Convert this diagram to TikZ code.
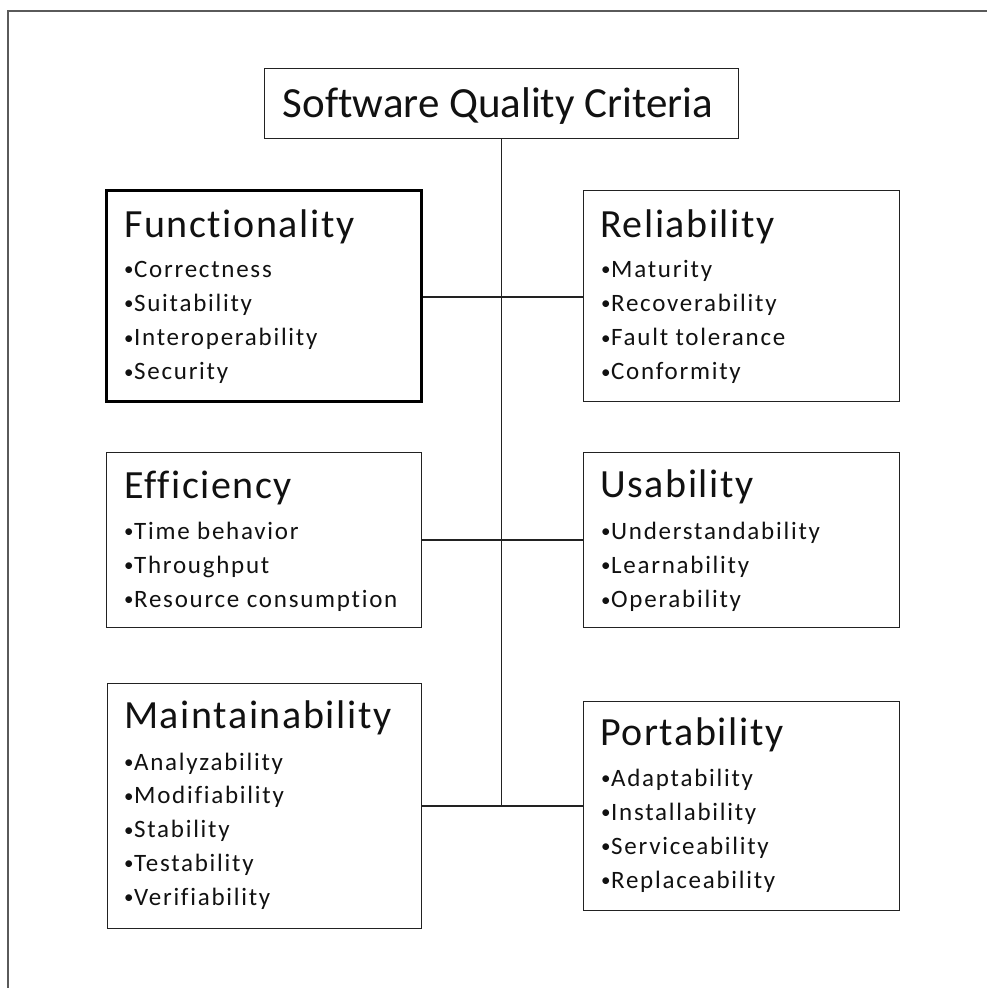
\documentclass[tikz,border=0pt]{standalone}
\usepackage{fontspec}
\setmainfont{Carlito}[Ligatures={NoCommon,NoRequired}]
\newfontfamily\titlefont{Carlito}[Ligatures={NoCommon,NoRequired}]
\newfontfamily\headfont{Carlito}[Ligatures={NoCommon,NoRequired},LetterSpace=4]
\newfontfamily\itemfont{Carlito}[Ligatures={NoCommon,NoRequired},LetterSpace=7]
\definecolor{boxline}{HTML}{222222}
\definecolor{framegray}{HTML}{5A5A5A}
\definecolor{ink}{HTML}{111111}
% small list bullet
\newcommand\bul{\raisebox{1.5pt}{\fontsize{19}{19}\selectfont•}\kern0.5pt}
\begin{document}
\begin{tikzpicture}[x=1pt,y=-1pt,
  box/.style={draw=boxline, line width=1.4pt, rectangle, inner sep=0pt, anchor=north west},
  keybox/.style={box, draw=black, line width=3pt},
  link/.style={draw=boxline, line width=1.4pt},
  heading/.style={anchor=base west, inner sep=0pt, text=ink, font=\headfont\fontsize{40}{42}\selectfont},
  item/.style={anchor=base west, inner sep=0pt, text=ink, font=\itemfont\fontsize{25}{27}\selectfont},
  titletext/.style={anchor=base, inner sep=0pt, text=ink, font=\titlefont\fontsize{43}{45}\selectfont}]
\useasboundingbox (0,0) rectangle (987,988);

% page frame
\draw[framegray, line width=1.2pt] (8,988) -- (8,11) -- (987,11);

% boxes
\node[box, minimum width=474pt, minimum height=70pt] (title) at (264,68) {};
\node[keybox, minimum width=315pt, minimum height=211pt] (func) at (105,189) {};
\node[box, minimum width=316pt, minimum height=211pt] (rel) at (583,190) {};
\node[box, minimum width=315pt, minimum height=175pt] (eff) at (106,452) {};
\node[box, minimum width=316pt, minimum height=175pt] (usa) at (583,452) {};
\node[box, minimum width=314pt, minimum height=245pt] (main) at (107,683) {};
\node[box, minimum width=316pt, minimum height=209pt] (port) at (583,701) {};

% title text
\node[titletext] (titlelabel) at (498,117) {Software Quality Criteria};

% junctions on the trunk
\coordinate (j1) at (502,297);
\coordinate (j2) at (502,540);
\coordinate (j3) at (502,806);

% connectors
\draw[link] (title.south) -- (title.south |- j3);
\draw[link] (func.east |- j1) -- (rel.west |- j1);
\draw[link] (eff.east |- j2) -- (usa.west |- j2);
\draw[link] (main.east |- j3) -- (port.west |- j3);

% Functionality
\node[heading] (funcH) at (124,237) {Functionality};
\foreach \t [count=\i] in {Correctness, Suitability, Interoperability, Security}
  \node[item] (func-\i) at (124,{277+34.3*(\i-1)}) {\bul\t};

% Reliability
\node[heading] (relH) at (600,237) {Reliability};
\foreach \t [count=\i] in {Maturity, Recoverability, Fault tolerance, Conformity}
  \node[item] (rel-\i) at (601,{277+34.3*(\i-1)}) {\bul\t};

% Efficiency
\node[heading] (effH) at (124,498) {Efficiency};
\foreach \t [count=\i] in {Time behavior, Throughput, Resource consumption}
  \node[item] (eff-\i) at (124,{539+34.2*(\i-1)}) {\bul\t};

% Usability
\node[heading] (usaH) at (600,497) {Usability};
\foreach \t [count=\i] in {Understandability, Learnability, Operability}
  \node[item] (usa-\i) at (601,{539+34.3*(\i-1)}) {\bul\t};

% Maintainability
\node[heading] (mainH) at (124,728) {Maintainability};
\foreach \t [count=\i] in {Analyzability, Modifiability, Stability, Testability, Verifiability}
  \node[item] (main-\i) at (124,{770+33.8*(\i-1)}) {\bul\t};

% Portability
\node[heading] (portH) at (600,745) {Portability};
\foreach \t [count=\i] in {Adaptability, Installability, Serviceability, Replaceability}
  \node[item] (port-\i) at (601,{786+34*(\i-1)}) {\bul\t};
\end{tikzpicture}
\end{document}
